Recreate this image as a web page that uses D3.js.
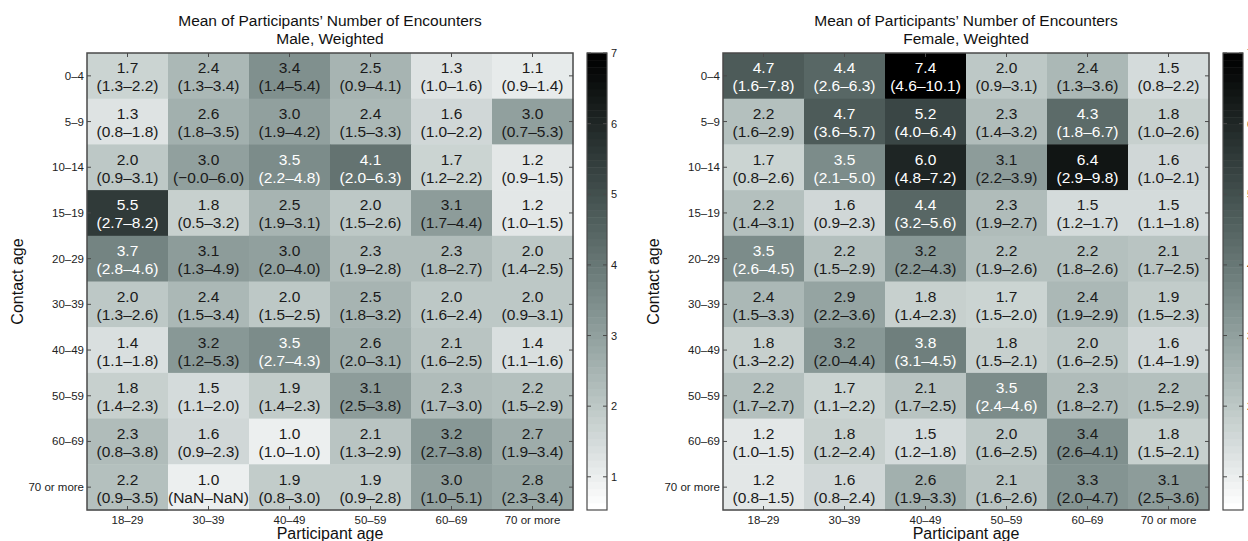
<!DOCTYPE html>
<html>
<head>
<meta charset="utf-8">
<script src="https://cdn.jsdelivr.net/npm/d3@7"></script>
<style>
  body { margin: 0; background: #fff; }
  svg { display: block; font-family: 'Liberation Sans', Arial, sans-serif; }
</style>
</head>
<body>
<div id="chart"></div>
<script>
// categories
const participantAges = ['18–29', '30–39', '40–49', '50–59', '60–69', '70 or more'];
const contactAges = ['0–4', '5–9', '10–14', '15–19', '20–29', '30–39', '40–49', '50–59', '60–69', '70 or more'];
const colorbarTicks = [1, 2, 3, 4, 5, 6, 7];

// male, weighted: mean and interval (rows = contact age, cols = participant age)
const maleMean = [
  [1.7, 2.4, 3.4, 2.5, 1.3, 1.1],
  [1.3, 2.6, 3.0, 2.4, 1.6, 3.0],
  [2.0, 3.0, 3.5, 4.1, 1.7, 1.2],
  [5.5, 1.8, 2.5, 2.0, 3.1, 1.2],
  [3.7, 3.1, 3.0, 2.3, 2.3, 2.0],
  [2.0, 2.4, 2.0, 2.5, 2.0, 2.0],
  [1.4, 3.2, 3.5, 2.6, 2.1, 1.4],
  [1.8, 1.5, 1.9, 3.1, 2.3, 2.2],
  [2.3, 1.6, 1.0, 2.1, 3.2, 2.7],
  [2.2, 1.0, 1.9, 1.9, 3.0, 2.8]
];
const maleLow = [
  [1.3, 1.3, 1.4, 0.9, 1.0, 0.9],
  [0.8, 1.8, 1.9, 1.5, 1.0, 0.7],
  [0.9, -0.0, 2.2, 2.0, 1.2, 0.9],
  [2.7, 0.5, 1.9, 1.5, 1.7, 1.0],
  [2.8, 1.3, 2.0, 1.9, 1.8, 1.4],
  [1.3, 1.5, 1.5, 1.8, 1.6, 0.9],
  [1.1, 1.2, 2.7, 2.0, 1.6, 1.1],
  [1.4, 1.1, 1.4, 2.5, 1.7, 1.5],
  [0.8, 0.9, 1.0, 1.3, 2.7, 1.9],
  [0.9, NaN, 0.8, 0.9, 1.0, 2.3]
];
const maleHigh = [
  [2.2, 3.4, 5.4, 4.1, 1.6, 1.4],
  [1.8, 3.5, 4.2, 3.3, 2.2, 5.3],
  [3.1, 6.0, 4.8, 6.3, 2.2, 1.5],
  [8.2, 3.2, 3.1, 2.6, 4.4, 1.5],
  [4.6, 4.9, 4.0, 2.8, 2.7, 2.5],
  [2.6, 3.4, 2.5, 3.2, 2.4, 3.1],
  [1.8, 5.3, 4.3, 3.1, 2.5, 1.6],
  [2.3, 2.0, 2.3, 3.8, 3.0, 2.9],
  [3.8, 2.3, 1.0, 2.9, 3.8, 3.4],
  [3.5, NaN, 3.0, 2.8, 5.1, 3.4]
];

// female, weighted
const femaleMean = [
  [4.7, 4.4, 7.4, 2.0, 2.4, 1.5],
  [2.2, 4.7, 5.2, 2.3, 4.3, 1.8],
  [1.7, 3.5, 6.0, 3.1, 6.4, 1.6],
  [2.2, 1.6, 4.4, 2.3, 1.5, 1.5],
  [3.5, 2.2, 3.2, 2.2, 2.2, 2.1],
  [2.4, 2.9, 1.8, 1.7, 2.4, 1.9],
  [1.8, 3.2, 3.8, 1.8, 2.0, 1.6],
  [2.2, 1.7, 2.1, 3.5, 2.3, 2.2],
  [1.2, 1.8, 1.5, 2.0, 3.4, 1.8],
  [1.2, 1.6, 2.6, 2.1, 3.3, 3.1]
];
const femaleLow = [
  [1.6, 2.6, 4.6, 0.9, 1.3, 0.8],
  [1.6, 3.6, 4.0, 1.4, 1.8, 1.0],
  [0.8, 2.1, 4.8, 2.2, 2.9, 1.0],
  [1.4, 0.9, 3.2, 1.9, 1.2, 1.1],
  [2.6, 1.5, 2.2, 1.9, 1.8, 1.7],
  [1.5, 2.2, 1.4, 1.5, 1.9, 1.5],
  [1.3, 2.0, 3.1, 1.5, 1.6, 1.4],
  [1.7, 1.1, 1.7, 2.4, 1.8, 1.5],
  [1.0, 1.2, 1.2, 1.6, 2.6, 1.5],
  [0.8, 0.8, 1.9, 1.6, 2.0, 2.5]
];
const femaleHigh = [
  [7.8, 6.3, 10.1, 3.1, 3.6, 2.2],
  [2.9, 5.7, 6.4, 3.2, 6.7, 2.6],
  [2.6, 5.0, 7.2, 3.9, 9.8, 2.1],
  [3.1, 2.3, 5.6, 2.7, 1.7, 1.8],
  [4.5, 2.9, 4.3, 2.6, 2.6, 2.5],
  [3.3, 3.6, 2.3, 2.0, 2.9, 2.3],
  [2.2, 4.4, 4.5, 2.1, 2.5, 1.9],
  [2.7, 2.2, 2.5, 4.6, 2.7, 2.9],
  [1.5, 2.4, 1.8, 2.5, 4.1, 2.1],
  [1.5, 2.4, 3.3, 2.6, 4.7, 3.6]
];

const panels = [
  { title: 'Male, Weighted', mean: maleMean, low: maleLow, high: maleHigh, left: 87 },
  { title: 'Female, Weighted', mean: femaleMean, low: femaleLow, high: femaleHigh, left: 723 }
];

// set the dimensions
const W = 1248, H = 541;
const plotW = 486, plotTop = 53, plotBottom = 510;
const cMin = 0.53, cMax = 7;
const levels = 64;

const svg = d3.select('#chart').append('svg')
  .attr('width', W)
  .attr('height', H)
  .style('background-color', '#fff');

// grey colormap with a slight teal tint, stepped like matlab
function cmap(v) {
  let t = (v - cMin) / (cMax - cMin);
  t = Math.max(0, Math.min(1, t));
  t = Math.min(levels - 1, Math.floor(t * levels)) / (levels - 1);
  const L = 255 * (1 - t);
  const s = Math.sin(Math.PI * t);
  const c = x => Math.round(Math.max(0, Math.min(255, x)));
  return d3.rgb(c(L - 14 * s), c(L + 2 * s), c(L + 0 * s));
}

function fmt(v) {
  if (isNaN(v)) return 'NaN';
  if (v < 0 || Object.is(v, -0)) return '\u2212' + Math.abs(v).toFixed(1);
  return v.toFixed(1);
}

const y = d3.scaleBand()
  .domain(contactAges)
  .range([plotTop, plotBottom])
  .padding(0);

const cy = d3.scaleLinear()
  .domain([cMin, cMax])
  .range([plotBottom, plotTop]);

panels.forEach(p => {
  const x = d3.scaleBand()
    .domain(participantAges)
    .range([p.left, p.left + plotW])
    .padding(0);

  const cx = p.left + plotW / 2;

  // titles
  svg.append('text')
    .attr('x', cx).attr('y', 25.5)
    .attr('text-anchor', 'middle')
    .attr('font-size', 15.5)
    .attr('fill', '#111')
    .text('Mean of Participants\u2019 Number of Encounters');
  svg.append('text')
    .attr('x', cx).attr('y', 44)
    .attr('text-anchor', 'middle')
    .attr('font-size', 15.5)
    .attr('fill', '#111')
    .text(p.title);

  // cells
  const cells = [];
  contactAges.forEach((r, i) => participantAges.forEach((c, j) => {
    cells.push({ r, c, m: p.mean[i][j], lo: p.low[i][j], hi: p.high[i][j] });
  }));

  const g = svg.append('g');
  g.selectAll('rect.cell')
    .data(cells)
    .enter().append('rect')
    .attr('class', 'cell')
    .attr('x', d => x(d.c))
    .attr('y', d => y(d.r))
    .attr('width', x.bandwidth() + 0.5)
    .attr('height', y.bandwidth() + 0.5)
    .attr('fill', d => cmap(d.m));

  const txt = g.selectAll('g.lab')
    .data(cells)
    .enter().append('g')
    .attr('class', 'lab')
    .attr('transform', d => `translate(${x(d.c) + x.bandwidth() / 2}, ${y(d.r) + y.bandwidth() / 2})`)
    .attr('fill', d => d.m >= 3.45 ? '#fff' : '#1a1a1a')
    .attr('text-anchor', 'middle')
    .attr('font-size', 15.5);
  txt.append('text')
    .attr('y', -2.5)
    .text(d => d.m.toFixed(1));
  txt.append('text')
    .attr('y', 15.5)
    .text(d => `(${fmt(d.lo)}\u2013${fmt(d.hi)})`);

  // frame and inward ticks
  const frame = svg.append('g')
    .attr('stroke', '#4a4a4a')
    .attr('fill', 'none');
  frame.append('rect')
    .attr('x', p.left).attr('y', plotTop)
    .attr('width', plotW).attr('height', plotBottom - plotTop)
    .attr('stroke-width', 1.5);
  participantAges.forEach(c => {
    const xc = x(c) + x.bandwidth() / 2;
    frame.append('line').attr('x1', xc).attr('x2', xc).attr('y1', plotTop).attr('y2', plotTop + 4);
    frame.append('line').attr('x1', xc).attr('x2', xc).attr('y1', plotBottom).attr('y2', plotBottom - 4);
  });
  contactAges.forEach(r => {
    const yc = y(r) + y.bandwidth() / 2;
    frame.append('line').attr('x1', p.left).attr('x2', p.left + 4).attr('y1', yc).attr('y2', yc);
    frame.append('line').attr('x1', p.left + plotW).attr('x2', p.left + plotW - 4).attr('y1', yc).attr('y2', yc);
  });

  // tick labels
  svg.append('g').selectAll('text')
    .data(participantAges)
    .enter().append('text')
    .attr('x', d => x(d) + x.bandwidth() / 2)
    .attr('y', 524)
    .attr('text-anchor', 'middle')
    .attr('font-size', 11.5)
    .attr('fill', '#222')
    .text(d => d);
  svg.append('g').selectAll('text')
    .data(contactAges)
    .enter().append('text')
    .attr('x', p.left - 3)
    .attr('y', d => y(d) + y.bandwidth() / 2 + 4)
    .attr('text-anchor', 'end')
    .attr('font-size', 11.5)
    .attr('fill', '#222')
    .text(d => d);

  // axis titles
  svg.append('text')
    .attr('x', cx).attr('y', 539)
    .attr('text-anchor', 'middle')
    .attr('font-size', 16)
    .attr('fill', '#111')
    .text('Participant age');
  svg.append('text')
    .attr('transform', `translate(${p.left - 64}, ${(plotTop + plotBottom) / 2}) rotate(-90)`)
    .attr('text-anchor', 'middle')
    .attr('font-size', 16)
    .attr('fill', '#111')
    .text('Contact age');

  // colorbar
  const cbX = p.left + plotW + 14, cbW = 20;
  const steps = d3.range(levels).map(k => cMin + (cMax - cMin) * k / levels);
  const step = (cMax - cMin) / levels;
  svg.append('g').selectAll('rect')
    .data(steps)
    .enter().append('rect')
    .attr('x', cbX)
    .attr('y', d => cy(d + step))
    .attr('width', cbW)
    .attr('height', d => cy(d) - cy(d + step) + 0.5)
    .attr('fill', d => cmap(d + step / 2));
  const cb = svg.append('g').attr('stroke', '#4a4a4a').attr('fill', 'none');
  cb.append('rect')
    .attr('x', cbX).attr('y', plotTop)
    .attr('width', cbW).attr('height', plotBottom - plotTop)
    .attr('stroke-width', 1.2);
  colorbarTicks.forEach(v => {
    cb.append('line').attr('x1', cbX).attr('x2', cbX + 4).attr('y1', cy(v)).attr('y2', cy(v));
    cb.append('line').attr('x1', cbX + cbW).attr('x2', cbX + cbW - 4).attr('y1', cy(v)).attr('y2', cy(v));
  });
  svg.append('g').selectAll('text')
    .data(colorbarTicks)
    .enter().append('text')
    .attr('x', cbX + cbW + 4)
    .attr('y', d => cy(d) + 4)
    .attr('font-size', 11)
    .attr('fill', '#222')
    .text(d => d);
});
</script>
</body>
</html>
